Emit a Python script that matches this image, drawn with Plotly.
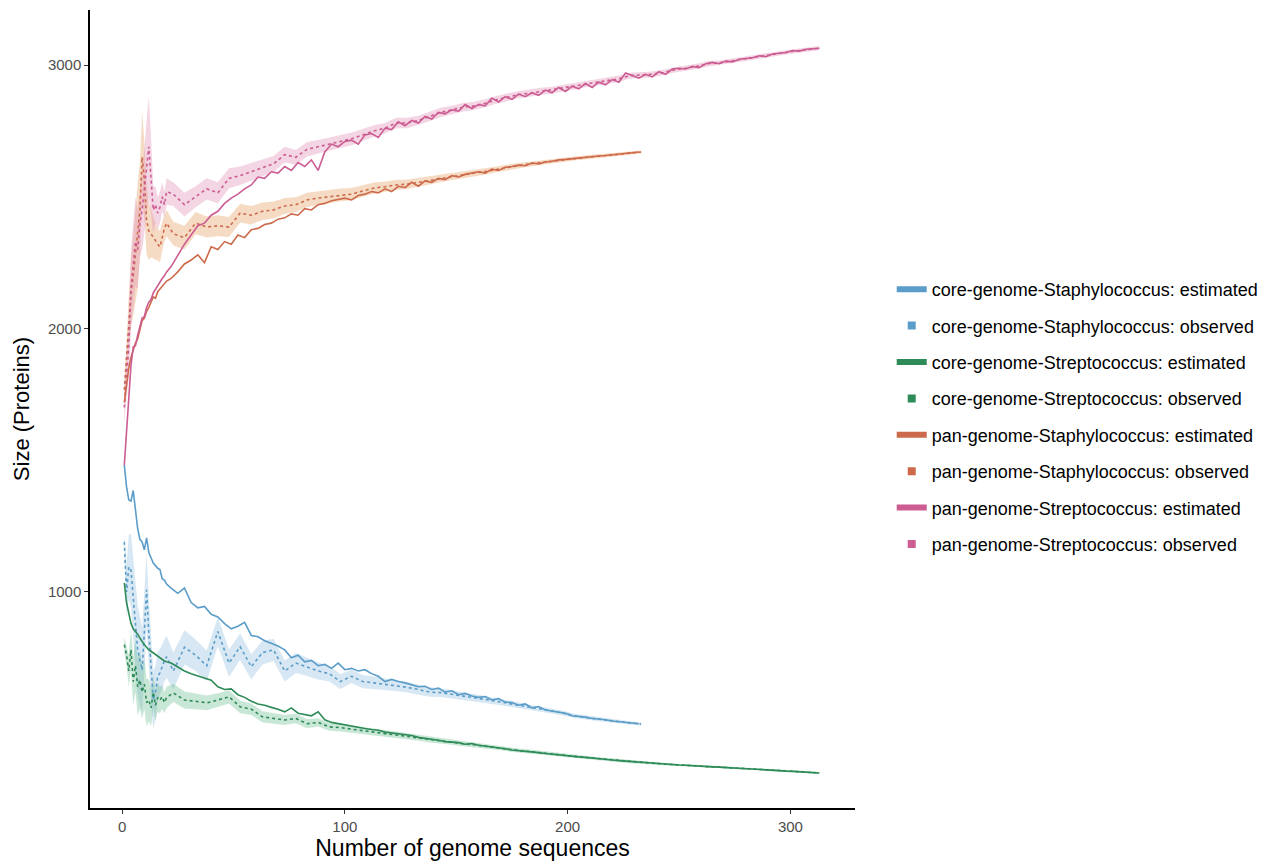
import plotly.graph_objects as go

# ---------------- data ----------------
X_EARLY = list(range(1, 21))          # genomes 1..20, every step
EST_LATE_START, EST_LATE_STEP = 22, 3  # estimated curves, later part
OBS_LATE_START, OBS_LATE_STEP = 23, 5  # observed curves, later part

# estimated (solid) curves
core_staph_est_early = [1482, 1400, 1350, 1345, 1385, 1300, 1240, 1200, 1190, 1160,
                        1205, 1150, 1130, 1110, 1100, 1090, 1085, 1050, 1045, 1030]
core_staph_est_late = [1015, 995, 1015, 960, 940, 945, 915, 905, 880, 860,
                       870, 885, 835, 830, 815, 805, 795, 780, 750, 760,
                       735, 740, 720, 725, 710, 730, 705, 710, 700, 705,
                       690, 680, 660, 668, 660, 655, 648, 640, 642, 630,
                       635, 620, 625, 610, 615, 605, 600, 603, 590, 595,
                       582, 580, 570, 575, 560, 565, 552, 548, 545, 540,
                       530, 528, 525, 520, 518, 515, 510, 508, 505, 502, 500]

core_strep_est_early = [1034, 960, 920, 880, 860, 850, 840, 825, 810, 800,
                        790, 780, 775, 769, 760, 755, 748, 742, 738, 735]
core_strep_est_late = [730, 715, 700, 690, 682, 672, 665, 640, 630, 632,
                       610, 600, 585, 575, 570, 562, 555, 545, 560, 540,
                       535, 530, 545, 515, 505, 500, 495, 490, 485, 482,
                       478, 475, 468, 465, 462, 458, 455, 448, 445, 440,
                       437, 432, 430, 428, 422, 425, 418, 415, 412, 408,
                       405, 400, 398, 396, 392, 390, 387, 384, 382, 378,
                       376, 374, 372, 369, 367, 365, 362, 360, 358, 355,
                       353, 351, 350, 348, 346, 345, 343, 342, 340, 339,
                       337, 336, 335, 333, 332, 330, 329, 328, 326, 325,
                       323, 322, 320, 319, 317, 316, 315, 313]

pan_staph_est_early = [1720, 1790, 1850, 1890, 1920, 1945, 1960, 1990, 2030, 2040,
                       2065, 2080, 2100, 2120, 2115, 2140, 2150, 2160, 2170, 2180]
pan_staph_est_late = [2190, 2215, 2245, 2260, 2280, 2250, 2310, 2300, 2330, 2320,
                      2355, 2345, 2375, 2380, 2395, 2400, 2415, 2420, 2435, 2430,
                      2455, 2450, 2470, 2475, 2485, 2490, 2495, 2488, 2505, 2510,
                      2520, 2515, 2530, 2520, 2540, 2535, 2555, 2540, 2560, 2555,
                      2570, 2565, 2580, 2575, 2585, 2590, 2595, 2590, 2605, 2600,
                      2612, 2615, 2620, 2618, 2628, 2625, 2632, 2635, 2640, 2642,
                      2645, 2648, 2650, 2652, 2655, 2657, 2660, 2662, 2665, 2668, 2670]

pan_strep_est_early = [1482, 1620, 1760, 1860, 1930, 1935, 1975, 2010, 2040, 2045,
                       2080, 2100, 2110, 2135, 2150, 2165, 2175, 2190, 2200, 2215]
pan_strep_est_late = [2235, 2280, 2320, 2355, 2390, 2400, 2430, 2445, 2475, 2495,
                      2510, 2530, 2545, 2575, 2570, 2595, 2590, 2615, 2600, 2630,
                      2615, 2640, 2600, 2670, 2700, 2690, 2710, 2715, 2700, 2735,
                      2740, 2725, 2760, 2755, 2785, 2770, 2790, 2780, 2805, 2795,
                      2820, 2815, 2830, 2825, 2850, 2835, 2850, 2845, 2875, 2860,
                      2880, 2870, 2890, 2880, 2895, 2885, 2905, 2895, 2915, 2900,
                      2920, 2910, 2930, 2915, 2935, 2925, 2945, 2935, 2970, 2960,
                      2950, 2965, 2955, 2975, 2965, 2985, 2988, 2985, 2995, 2990,
                      3005, 3010, 3005, 3015, 3012, 3022, 3025, 3028, 3035, 3032,
                      3042, 3045, 3048, 3055, 3053, 3060, 3062, 3064]

# observed (dotted) curves
core_staph_obs_early = [1190, 1000, 1095, 1083, 980, 867, 780, 740, 704, 850,
                        1008, 845, 693, 590, 620, 680, 693, 720, 740, 754]
core_staph_obs_late = [700, 790, 760, 720, 850, 730, 792, 716, 770, 780,
                       700, 730, 716, 700, 690, 660, 680, 660, 655, 650,
                       645, 638, 630, 620, 618, 612, 605, 598, 592, 585,
                       578, 570, 562, 555, 548, 540, 530, 524, 518, 513,
                       508, 503, 499]

core_strep_obs_early = [800, 760, 700, 780, 660, 720, 640, 666, 620, 650,
                        580, 590, 560, 620, 570, 600, 590, 602, 580, 600]
core_strep_obs_late = [617, 590, 585, 579, 590, 602, 564, 555, 526, 520,
                       514, 520, 500, 505, 488, 485, 480, 475, 468, 462,
                       458, 452, 446, 440, 434, 430, 424, 420, 414, 410,
                       403, 398, 394, 389, 385, 380, 376, 372, 368, 364,
                       360, 356, 353, 350, 347, 344, 342, 340, 337, 335,
                       333, 331, 328, 326, 323, 321, 318, 316, 313]

pan_staph_obs_early = [1767, 1880, 2030, 2135, 2200, 2280, 2350, 2450, 2651, 2565,
                       2412, 2370, 2360, 2347, 2330, 2320, 2310, 2350, 2380, 2400]
pan_staph_obs_late = [2360, 2345, 2400, 2385, 2390, 2385, 2438, 2430, 2445, 2450,
                      2465, 2470, 2488, 2495, 2500, 2507, 2510, 2522, 2533, 2538,
                      2545, 2548, 2555, 2562, 2570, 2578, 2584, 2590, 2596, 2604,
                      2612, 2618, 2625, 2630, 2636, 2641, 2646, 2650, 2654, 2657,
                      2662, 2666, 2670]

pan_strep_obs_early = [1700, 1820, 1930, 2150, 2240, 2330, 2300, 2400, 2450, 2520,
                       2610, 2690, 2575, 2450, 2470, 2438, 2460, 2500, 2470, 2520]
pan_strep_obs_late = [2510, 2470, 2500, 2530, 2515, 2570, 2580, 2595, 2610, 2625,
                      2660, 2650, 2680, 2690, 2700, 2710, 2720, 2735, 2750, 2760,
                      2780, 2780, 2790, 2805, 2820, 2830, 2840, 2845, 2855, 2868,
                      2878, 2888, 2893, 2900, 2905, 2912, 2920, 2928, 2935, 2942,
                      2948, 2960, 2962, 2965, 2972, 2982, 2988, 2995, 3005, 3008,
                      3015, 3022, 3028, 3035, 3042, 3048, 3054, 3060, 3064]

# half-width of the shaded band around the observed curves
core_staph_band_early = [40, 100, 120, 140, 150, 160, 170, 170, 160, 150,
                         140, 130, 120, 110, 100, 95, 90, 85, 80, 80]
core_staph_band_late = [70, 65, 60, 58, 55, 52, 50, 48, 45, 42,
                        40, 38, 35, 32, 30, 28, 26, 25, 24, 22,
                        21, 20, 19, 18, 17, 16, 15, 14, 13, 12,
                        12, 11, 10, 10, 9, 9, 8, 8, 8, 7,
                        7, 6, 6]
core_strep_band_early = [30, 40, 60, 80, 90, 100, 110, 110, 100, 95,
                         90, 80, 70, 65, 60, 55, 50, 45, 40, 40]
core_strep_band_late = [35, 32, 30, 28, 26, 25, 24, 22, 21, 20,
                        19, 18, 17, 16, 15, 15, 14, 14, 13, 13,
                        12, 12, 11, 11, 10, 10, 10, 9, 9, 9,
                        8, 8, 8, 8, 7, 7, 7, 7, 6, 6,
                        6, 6, 6, 5, 5, 5, 5, 5, 5, 5,
                        4, 4, 4, 4, 4, 4, 4, 4, 4]
pan_staph_band_early = [40, 60, 100, 130, 150, 180, 200, 180, 170, 150,
                        130, 110, 90, 80, 70, 60, 60, 55, 50, 50]
pan_staph_band_late = [45, 45, 42, 40, 40, 38, 36, 35, 33, 32,
                       30, 28, 27, 26, 25, 24, 23, 22, 21, 20,
                       19, 18, 17, 16, 15, 14, 13, 12, 12, 11,
                       11, 10, 10, 9, 9, 8, 8, 8, 7, 7,
                       7, 6, 6]
pan_strep_band_early = [60, 80, 120, 150, 160, 170, 150, 130, 150, 160,
                        180, 190, 150, 90, 70, 60, 60, 55, 50, 50]
pan_strep_band_late = [45, 45, 40, 40, 40, 38, 35, 35, 32, 30,
                       30, 28, 28, 26, 25, 25, 24, 22, 22, 20,
                       20, 20, 18, 18, 18, 16, 16, 16, 15, 15,
                       15, 14, 14, 14, 13, 13, 13, 12, 12, 12,
                       12, 11, 11, 11, 10, 10, 10, 10, 10, 9,
                       9, 9, 9, 8, 8, 8, 8, 8, 8]

SERIES = [
    ("core-genome-Staphylococcus", core_staph_est_early, core_staph_est_late,
     core_staph_obs_early, core_staph_obs_late, core_staph_band_early, core_staph_band_late),
    ("core-genome-Streptococcus", core_strep_est_early, core_strep_est_late,
     core_strep_obs_early, core_strep_obs_late, core_strep_band_early, core_strep_band_late),
    ("pan-genome-Staphylococcus", pan_staph_est_early, pan_staph_est_late,
     pan_staph_obs_early, pan_staph_obs_late, pan_staph_band_early, pan_staph_band_late),
    ("pan-genome-Streptococcus", pan_strep_est_early, pan_strep_est_late,
     pan_strep_obs_early, pan_strep_obs_late, pan_strep_band_early, pan_strep_band_late),
]

# ---------------- style ----------------
LINE_COLORS = ["#5B9DC9", "#2E8B57", "#CD6A4C", "#CC5C92"]
BAND_COLORS = ["rgba(140,185,220,0.35)", "rgba(100,185,140,0.35)",
               "rgba(236,175,125,0.45)", "rgba(225,150,185,0.40)"]

fig = go.Figure()

built = []
for name, e_early, e_late, o_early, o_late, b_early, b_late in SERIES:
    xe = X_EARLY + [EST_LATE_START + EST_LATE_STEP * i for i in range(len(e_late))]
    ye = e_early + e_late
    xo = X_EARLY + [OBS_LATE_START + OBS_LATE_STEP * i for i in range(len(o_late))]
    yo = o_early + o_late
    bw = b_early + b_late
    built.append((name, xe, ye, xo, yo, bw))

# bands
for k, (name, xe, ye, xo, yo, bw) in enumerate(built):
    upper = [v + w for v, w in zip(yo, bw)]
    lower = [v - w for v, w in zip(yo, bw)]
    fig.add_trace(go.Scatter(x=xo + xo[::-1], y=upper + lower[::-1], fill="toself",
                             fillcolor=BAND_COLORS[k], line=dict(width=0),
                             mode="lines", hoverinfo="skip", showlegend=False))
# observed dotted
for k, (name, xe, ye, xo, yo, bw) in enumerate(built):
    fig.add_trace(go.Scatter(x=xo, y=yo, mode="lines",
                             line=dict(color=LINE_COLORS[k], width=1.6, dash="dot"),
                             name=f"{name}: observed", showlegend=False))
# estimated solid
for k, (name, xe, ye, xo, yo, bw) in enumerate(built):
    fig.add_trace(go.Scatter(x=xe, y=ye, mode="lines",
                             line=dict(color=LINE_COLORS[k], width=1.6),
                             name=f"{name}: estimated", showlegend=False))

# legend entries
for k, (name, *_rest) in enumerate(built):
    fig.add_trace(go.Scatter(x=[None], y=[None], mode="lines",
                             line=dict(color=LINE_COLORS[k], width=6),
                             name=f"{name}: estimated", legendgroup=f"{k}e",
                             showlegend=True))
    fig.add_trace(go.Scatter(x=[None], y=[None], mode="markers",
                             marker=dict(color=LINE_COLORS[k], size=8, symbol="square"),
                             name=f"{name}: observed", legendgroup=f"{k}o",
                             showlegend=True))

fig.update_layout(
    width=1279, height=864,
    margin=dict(l=90, r=424, t=10, b=56),
    paper_bgcolor="white", plot_bgcolor="white",
    font=dict(family="Liberation Sans, Arial, sans-serif", color="black"),
    showlegend=True,
    legend=dict(x=1.048, xanchor="left", y=0.49, yanchor="middle",
                font=dict(size=18, color="black"), tracegroupgap=10,
                itemwidth=30, bgcolor="rgba(0,0,0,0)"),
    xaxis=dict(range=[-14.4, 329], tickvals=[0, 100, 200, 300],
               ticks="outside", ticklen=4, tickcolor="#333", showgrid=False,
               zeroline=False, showline=True, linecolor="black", linewidth=1.5,
               tickfont=dict(size=15, color="#4d4d4d"),
               title=dict(text="Number of genome sequences", font=dict(size=23, color="black"),
                          standoff=4)),
    yaxis=dict(range=[180, 3209], tickvals=[1000, 2000, 3000],
               ticks="outside", ticklen=4, tickcolor="#333", showgrid=False,
               zeroline=False, showline=True, linecolor="black", linewidth=1.5,
               tickfont=dict(size=15, color="#4d4d4d"),
               title=dict(text="Size (Proteins)", font=dict(size=22, color="black"),
                          standoff=12)),
)

fig.write_html("out.html")
